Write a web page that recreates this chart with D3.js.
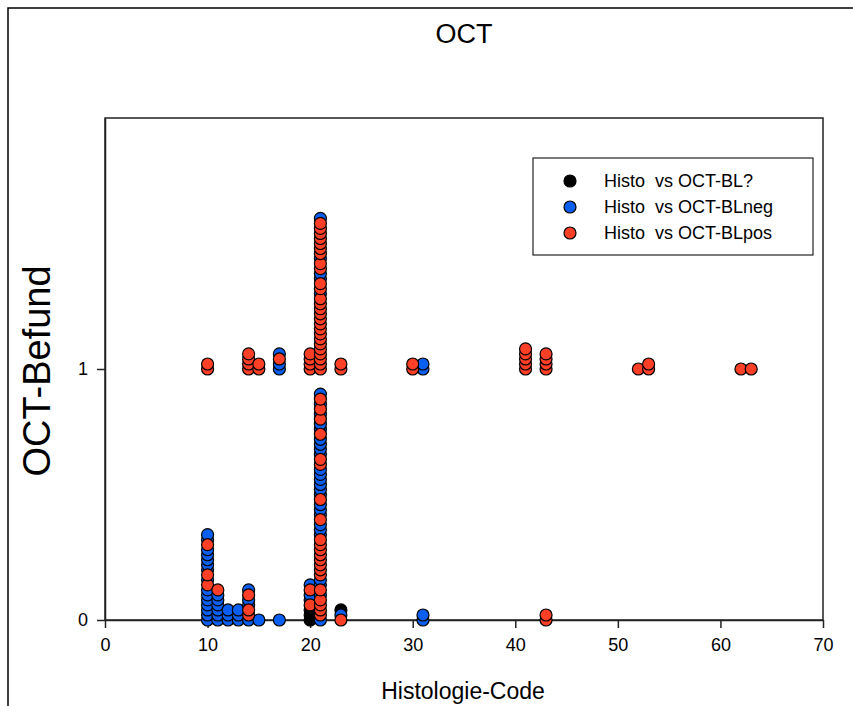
<!DOCTYPE html>
<html>
<head>
<meta charset="utf-8">
<script src="https://cdn.jsdelivr.net/npm/d3@7"></script>
<style>
  body { margin: 0; background: #fff; }
  text { font-family: "Liberation Sans", Arial, sans-serif; fill: #000; }
</style>
</head>
<body>
<div id="chart"></div>
<script>
// x ticks and y ticks
var xTicks = [0, 10, 20, 30, 40, 50, 60, 70];
var yTicks = [0, 1];

var seriesNames = ["Histo  vs OCT-BL?", "Histo  vs OCT-BLneg", "Histo  vs OCT-BLpos"];
var seriesColors = ["#000000", "#0a5ef0", "#ff3f26"];

// [Histologie-Code, list of OCT-Befund values]
var blUnknown = [
  [20, [0, 0.02, 0.04]],
  [23, [0.04]]
];

var blNeg = [
  [10, [0, 0.02, 0.04, 0.06, 0.08, 0.10, 0.12, 0.16, 0.20, 0.22, 0.24, 0.26, 0.28, 0.32, 0.34]],
  [11, [0, 0.02, 0.04, 0.06, 0.08, 0.10]],
  [12, [0, 0.02, 0.04]],
  [13, [0, 0.02, 0.04]],
  [14, [0, 0.06, 0.08, 0.12]],
  [15, [0]],
  [17, [0]],
  [20, [0.08, 0.10, 0.14]],
  [21, [0, 0.10, 0.14, 0.16, 0.34, 0.36, 0.38, 0.42, 0.44, 0.46, 0.50, 0.52, 0.54, 0.56, 0.58, 0.60,
        0.66, 0.68, 0.70, 0.72, 0.76, 0.78, 0.82, 0.86, 0.90]],
  [23, [0.02]],
  [31, [0, 0.02]],
  [17, [1, 1.02, 1.06]],
  [21, [1.30, 1.36, 1.38, 1.44, 1.60]],
  [31, [1, 1.02]]
];

var blPos = [
  [10, [0.14, 0.18, 0.30]],
  [11, [0.12]],
  [14, [0.02, 0.04, 0.10]],
  [20, [0.06, 0.12]],
  [21, [0.02, 0.04, 0.06, 0.08, 0.12, 0.18, 0.20, 0.22, 0.24, 0.26, 0.28, 0.30, 0.32, 0.40, 0.48,
        0.62, 0.64, 0.74, 0.80, 0.84, 0.88]],
  [23, [0]],
  [43, [0, 0.02]],
  [10, [1, 1.02]],
  [14, [1, 1.02, 1.04, 1.06]],
  [15, [1, 1.02]],
  [17, [1.04]],
  [20, [1, 1.02, 1.04, 1.06]],
  [21, [1, 1.02, 1.04, 1.06, 1.08, 1.10, 1.12, 1.14, 1.16, 1.18, 1.20, 1.22, 1.24, 1.26, 1.28,
        1.32, 1.34, 1.40, 1.42, 1.46, 1.48, 1.50, 1.52, 1.54, 1.56, 1.58]],
  [23, [1, 1.02]],
  [30, [1, 1.02]],
  [41, [1, 1.02, 1.04, 1.06, 1.08]],
  [43, [1, 1.02, 1.04, 1.06]],
  [52, [1]],
  [53, [1, 1.02]],
  [62, [1]],
  [63, [1]]
];

function init() {
  var w = 853;
  var h = 706;
  var left = 105, right = 823, top = 118, bottom = 620;
  var font = '"Liberation Sans", Arial, sans-serif';

  var svg = d3.select("#chart")
    .append("svg")
    .attr("width", w)
    .attr("height", h);

  // outer page frame
  svg.append("rect")
    .attr("x", 8).attr("y", 8)
    .attr("width", 900).attr("height", 800)
    .attr("fill", "none")
    .attr("stroke", "#000")
    .attr("stroke-width", 1.5);

  var xScale = d3.scaleLinear().domain([0, 70]).range([left, right]);
  var yScale = d3.scaleLinear().domain([0, 2]).range([bottom, top]);

  // plot frame
  svg.append("rect")
    .attr("x", left).attr("y", top)
    .attr("width", right - left).attr("height", bottom - top)
    .attr("fill", "none")
    .attr("stroke", "#222")
    .attr("stroke-width", 1.5);

  var xAxis = d3.axisBottom(xScale)
    .tickValues(xTicks)
    .tickFormat(d3.format("d"))
    .tickSizeInner(8)
    .tickSizeOuter(0)
    .tickPadding(10);

  var yAxis = d3.axisLeft(yScale)
    .tickValues(yTicks)
    .tickFormat(d3.format("d"))
    .tickSizeInner(8)
    .tickSizeOuter(0)
    .tickPadding(9);

  var gx = svg.append("g")
    .attr("transform", `translate(0,${bottom})`)
    .call(xAxis);

  var gy = svg.append("g")
    .attr("transform", `translate(${left},0)`)
    .call(yAxis);

  [gx, gy].forEach(function(g) {
    g.select(".domain").attr("stroke", "#222").attr("stroke-width", 1.5);
    g.selectAll(".tick line").attr("stroke", "#222").attr("stroke-width", 1.5);
    g.selectAll(".tick text")
      .attr("font-family", font)
      .attr("font-size", 18)
      .attr("fill", "#000");
  });

  // points, one series after another (later series on top)
  var allSeries = [blUnknown, blNeg, blPos];
  allSeries.forEach(function(series, si) {
    var pts = [];
    series.forEach(function(col) {
      col[1].forEach(function(v) { pts.push({ x: col[0], y: v }); });
    });
    svg.append("g")
      .selectAll("circle")
      .data(pts)
      .enter()
      .append("circle")
      .attr("cx", d => xScale(d.x))
      .attr("cy", d => yScale(d.y))
      .attr("r", 6)
      .attr("fill", seriesColors[si])
      .attr("stroke", "#000")
      .attr("stroke-width", 1.2);
  });

  // legend
  var lg = svg.append("g");
  lg.append("rect")
    .attr("x", 533).attr("y", 158)
    .attr("width", 280).attr("height", 97)
    .attr("fill", "#fff")
    .attr("stroke", "#222")
    .attr("stroke-width", 1.2);

  seriesNames.forEach(function(name, i) {
    var yy = 181 + i * 26;
    lg.append("circle")
      .attr("cx", 570).attr("cy", yy)
      .attr("r", 6)
      .attr("fill", seriesColors[i])
      .attr("stroke", "#000")
      .attr("stroke-width", 1.2);
    lg.append("text")
      .attr("x", 604).attr("y", yy + 6)
      .attr("font-size", 18)
      .attr("xml:space", "preserve")
      .style("white-space", "pre")
      .text(name);
  });

  // titles
  svg.append("text")
    .attr("x", 464).attr("y", 43)
    .attr("text-anchor", "middle")
    .attr("font-size", 27)
    .text("OCT");

  svg.append("text")
    .attr("x", 463).attr("y", 699)
    .attr("text-anchor", "middle")
    .attr("font-size", 23)
    .text("Histologie-Code");

  svg.append("text")
    .attr("transform", "translate(50,371) rotate(-90)")
    .attr("text-anchor", "middle")
    .attr("font-size", 38)
    .text("OCT-Befund");
}

window.onload = init;
</script>
</body>
</html>
